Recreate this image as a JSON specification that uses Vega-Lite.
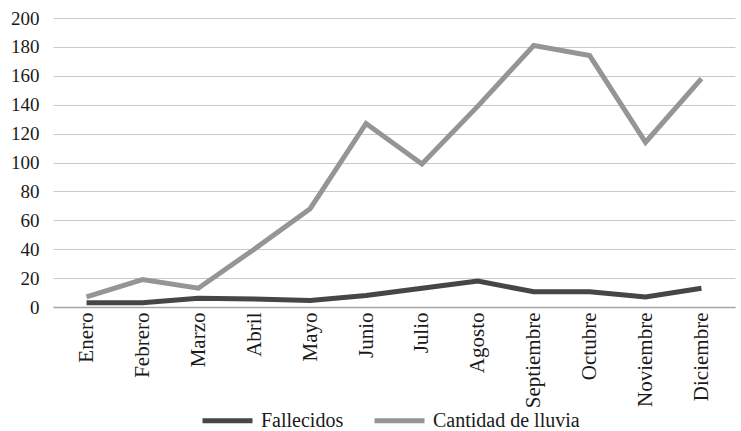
{
  "$schema": "https://vega.github.io/schema/vega-lite/v6.json",
  "width": 682,
  "height": 289,
  "padding": {"left": 53, "top": 18, "right": 6, "bottom": 124},
  "autosize": {"type": "none"},
  "background": "white",
  "config": {
    "view": {"stroke": null},
    "font": "Liberation Serif",
    "axis": {"labelFont": "Liberation Serif", "labelFontSize": 19, "labelColor": "#1a1a1a"},
    "legend": {"labelFont": "Liberation Serif", "labelFontSize": 20, "labelColor": "#1a1a1a"}
  },
  "data": {
    "values": [
      {"mes": "Enero", "serie": "Fallecidos", "valor": 3},
      {"mes": "Febrero", "serie": "Fallecidos", "valor": 3},
      {"mes": "Marzo", "serie": "Fallecidos", "valor": 6},
      {"mes": "Abril", "serie": "Fallecidos", "valor": 5.5},
      {"mes": "Mayo", "serie": "Fallecidos", "valor": 4.5},
      {"mes": "Junio", "serie": "Fallecidos", "valor": 8},
      {"mes": "Julio", "serie": "Fallecidos", "valor": 13},
      {"mes": "Agosto", "serie": "Fallecidos", "valor": 18},
      {"mes": "Septiembre", "serie": "Fallecidos", "valor": 10.5},
      {"mes": "Octubre", "serie": "Fallecidos", "valor": 10.5},
      {"mes": "Noviembre", "serie": "Fallecidos", "valor": 7},
      {"mes": "Diciembre", "serie": "Fallecidos", "valor": 13},
      {"mes": "Enero", "serie": "Cantidad de lluvia", "valor": 7},
      {"mes": "Febrero", "serie": "Cantidad de lluvia", "valor": 19},
      {"mes": "Marzo", "serie": "Cantidad de lluvia", "valor": 13},
      {"mes": "Abril", "serie": "Cantidad de lluvia", "valor": 40},
      {"mes": "Mayo", "serie": "Cantidad de lluvia", "valor": 68},
      {"mes": "Junio", "serie": "Cantidad de lluvia", "valor": 127},
      {"mes": "Julio", "serie": "Cantidad de lluvia", "valor": 99},
      {"mes": "Agosto", "serie": "Cantidad de lluvia", "valor": 139},
      {"mes": "Septiembre", "serie": "Cantidad de lluvia", "valor": 181},
      {"mes": "Octubre", "serie": "Cantidad de lluvia", "valor": 174},
      {"mes": "Noviembre", "serie": "Cantidad de lluvia", "valor": 114},
      {"mes": "Diciembre", "serie": "Cantidad de lluvia", "valor": 158}
    ]
  },
  "mark": {"type": "line", "strokeWidth": 5, "strokeJoin": "miter", "strokeCap": "butt"},
  "encoding": {
    "x": {
      "field": "mes",
      "type": "ordinal",
      "sort": ["Enero", "Febrero", "Marzo", "Abril", "Mayo", "Junio", "Julio", "Agosto", "Septiembre", "Octubre", "Noviembre", "Diciembre"],
      "scale": {"type": "point", "padding": 0.6},
      "axis": {
        "title": null,
        "labelAngle": 270,
        "labelAlign": "right",
        "labelBaseline": "middle",
        "labelPadding": 5,
        "labelFontSize": 21,
        "ticks": false,
        "domain": true,
        "domainColor": "#a6a6a6",
        "domainWidth": 1.5,
        "grid": false
      }
    },
    "y": {
      "field": "valor",
      "type": "quantitative",
      "scale": {"domain": [0, 200], "nice": false},
      "axis": {
        "title": null,
        "values": [0, 20, 40, 60, 80, 100, 120, 140, 160, 180, 200],
        "domain": false,
        "ticks": false,
        "grid": true,
        "gridColor": "#c9c9c9",
        "gridWidth": 1.2,
        "labelPadding": 14
      }
    },
    "color": {
      "field": "serie",
      "type": "nominal",
      "sort": ["Fallecidos", "Cantidad de lluvia"],
      "scale": {"domain": ["Fallecidos", "Cantidad de lluvia"], "range": ["#464646", "#959595"]},
      "legend": {
        "title": null,
        "orient": "none",
        "direction": "horizontal",
        "legendX": 147,
        "legendY": 375,
        "symbolType": "stroke",
        "symbolSize": 2500,
        "symbolStrokeWidth": 5,
        "labelOffset": 6,
        "columnPadding": 20
      }
    }
  }
}
